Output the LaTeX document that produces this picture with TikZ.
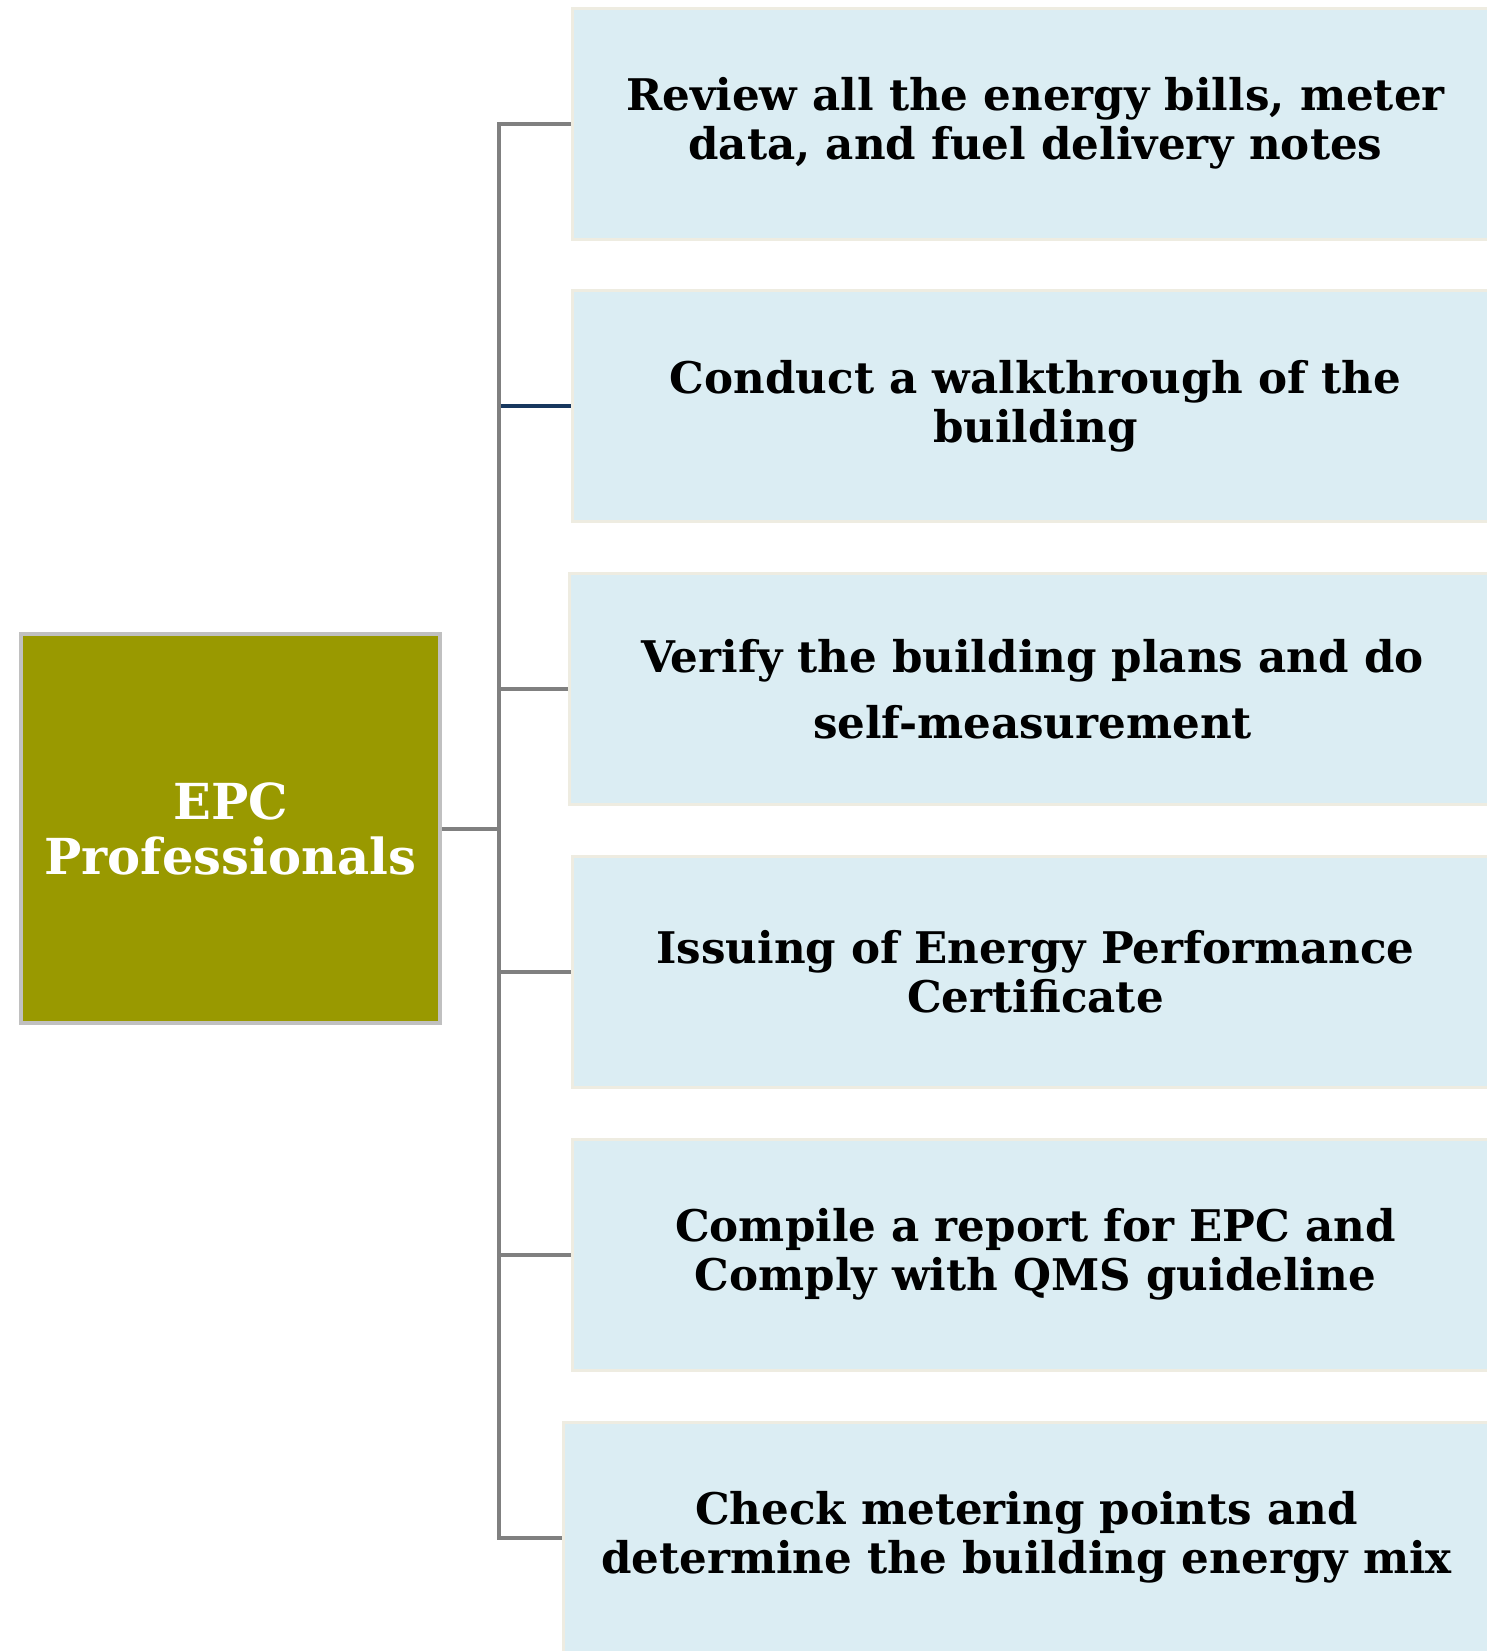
\documentclass[tikz,border=0pt]{standalone}
\usepackage{fontspec}
\setmainfont{DejaVu Serif}
\usetikzlibrary{positioning,calc}
\definecolor{olivebox}{HTML}{999900}
\definecolor{maingray}{HTML}{C0C0C0}
\definecolor{taskblue}{HTML}{DBEDF3}
\definecolor{taskedge}{HTML}{EEECE1}
\definecolor{linegray}{HTML}{808080}
\definecolor{linenavy}{HTML}{17375E}

\begin{document}
\begin{tikzpicture}[x=0.5pt,y=-0.5pt,node distance=24.4pt,
    main node/.style={draw=maingray,line width=2pt,fill=olivebox,minimum width=209.5pt,minimum height=194.5pt,inner sep=0pt,align=center,text=white,font=\fontsize{24.8}{27.5}\selectfont\bfseries},
    task node/.style={draw=taskedge,line width=1.5pt,fill=taskblue,minimum width=463.5pt,minimum height=115.5pt,inner sep=0pt,align=center,font=\fontsize{21.8}{24.5}\selectfont\bfseries},
    elbow/.style={draw=linegray,line width=2pt,to path={(\tikztostart.east) -- ++(28.5pt,0) |- (\tikztotarget.west)}}]

    \useasboundingbox (0,0) rectangle (1487,1651);
    \clip (0,0) rectangle (1487,1651);

    \node[main node] (pro) at (230.5,828.5) {EPC\\Professionals};

    \node[task node] (b1) at (1035.5,123.5) {Review all the energy bills, meter\\data, and fuel delivery notes};
    \node[task node] (b2) [below=of b1] {Conduct a walkthrough of the\\building};
    \node[task node] (b3) [below=of b2,xshift=-1.5pt,font=\fontsize{21.8}{33}\selectfont\bfseries] {Verify the building plans and do\\self-measurement};
    \node[task node] (b4) [below=of b3,xshift=1.5pt] {Issuing of Energy Performance\\Certificate};
    \node[task node] (b5) [below=of b4] {Compile a report for EPC and\\Comply with QMS guideline};
    \node[task node] (b6) [below=of b5,xshift=-4.5pt] {Check metering points and\\determine the building energy mix};

    \path
    (pro) edge[elbow,draw=linenavy] (b2)
    (pro) edge[elbow] (b1)
    (pro) edge[elbow] (b3)
    (pro) edge[elbow] (b4)
    (pro) edge[elbow] (b5)
    (pro) edge[elbow] (b6)
    ;
\end{tikzpicture}
\end{document}
